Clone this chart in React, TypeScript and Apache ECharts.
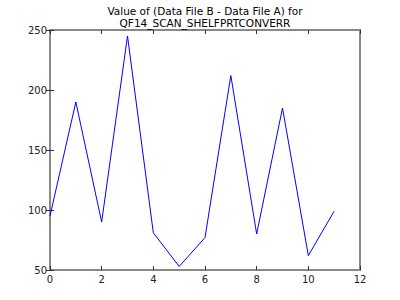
import React, { useEffect, useRef } from "react";
import * as echarts from "echarts";

const xValues = [0, 1, 2, 3, 4, 5, 6, 7, 8, 9, 10, 11];
const yValues = [95, 190, 90, 245, 81, 53, 77, 212, 80, 185, 62, 99];
const titleLines = ["Value of (Data File B - Data File A) for", "QF14_SCAN_SHELFPRTCONVERR"];

export default function App() {
  const ref = useRef<HTMLDivElement>(null);
  useEffect(() => {
    const chart = echarts.init(ref.current!, null, { renderer: "svg" });
    const font = "DejaVu Sans";
    const tickStyle = { show: true, inside: true, length: 4, lineStyle: { color: "#333", width: 1 } };
    chart.setOption({
      animation: false,
      backgroundColor: "#fff",
      title: {
        text: titleLines.join("\n"),
        left: 205,
        top: 0,
        padding: [5, 0, 0, 0],
        textAlign: "center",
        textStyle: { fontFamily: font, fontSize: 10.5, fontWeight: "normal", color: "#000", lineHeight: 12 },
      },
      grid: {
        left: 50, right: 40, top: 30, bottom: 30,
        show: true, borderColor: "#888", borderWidth: 2, backgroundColor: "#fff",
      },
      xAxis: [
        {
          type: "value", min: 0, max: 12, interval: 2,
          axisLine: { show: false },
          axisTick: tickStyle,
          splitLine: { show: false },
          axisLabel: { fontFamily: font, fontSize: 10, color: "#222", margin: 4 },
        },
        {
          type: "value", position: "top", min: 0, max: 12, interval: 2,
          axisLine: { show: false }, axisTick: tickStyle,
          splitLine: { show: false }, axisLabel: { show: false },
        },
      ],
      yAxis: [
        {
          type: "value", min: 50, max: 250, interval: 50,
          axisLine: { show: false },
          axisTick: tickStyle,
          splitLine: { show: false },
          axisLabel: { fontFamily: font, fontSize: 10, color: "#222", margin: 3 },
        },
        {
          type: "value", position: "right", min: 50, max: 250, interval: 50,
          axisLine: { show: false }, axisTick: tickStyle,
          splitLine: { show: false }, axisLabel: { show: false },
        },
      ],
      series: [
        {
          type: "line",
          data: xValues.map((x, i) => [x, yValues[i]]),
          showSymbol: false,
          lineStyle: { color: "#0000ff", width: 1 },
          itemStyle: { color: "#0000ff" },
        },
      ],
    });
    return () => chart.dispose();
  }, []);
  return <div ref={ref} style={{ width: 400, height: 300, position: "absolute", left: 0, top: 0 }} />;
}
